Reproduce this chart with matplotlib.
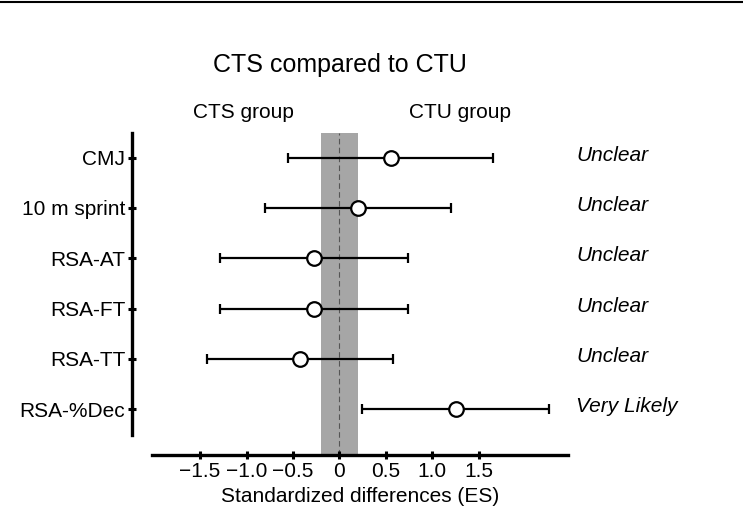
import matplotlib
matplotlib.use("Agg")
import matplotlib.pyplot as plt
from matplotlib.lines import Line2D

plt.rcParams['font.family'] = ['Liberation Sans', 'DejaVu Sans']

measures = ["CMJ", "10 m sprint", "RSA-AT", "RSA-FT", "RSA-TT", "RSA-%Dec"]
es = [0.55, 0.20, -0.27, -0.27, -0.42, 1.25]
ci_low = [-0.55, -0.80, -1.28, -1.28, -1.43, 0.24]
ci_high = [1.65, 1.20, 0.74, 0.74, 0.58, 2.25]
outcomes = ["Unclear", "Unclear", "Unclear", "Unclear", "Unclear", "Very Likely"]
xticks = [-1.5, -1.0, -0.5, 0, 0.5, 1.0, 1.5]
xticklabels = ["\u22121.5", "\u22121.0", "\u22120.5", "0", "0.5", "1.0", "1.5"]
swc = 0.2

fig = plt.figure(figsize=(7.43, 5.23), dpi=100)
ax = fig.add_axes([0.2042, 0.130, 0.5603, 0.6157])

ypos = list(range(len(measures)))
ax.axvspan(-swc, swc, color="#a6a6a6", lw=0, zorder=0)
ax.axvline(0, color="#555555", lw=0.8, ls=(0, (5, 3)), zorder=1)

err_lo = [e - l for e, l in zip(es, ci_low)]
err_hi = [h - e for e, h in zip(es, ci_high)]
ax.errorbar(es, ypos, xerr=[err_lo, err_hi], fmt="o", color="black",
            ecolor="black", elinewidth=1.6, capsize=3.5, capthick=1.6,
            markersize=10.5, markerfacecolor="white", markeredgecolor="black",
            markeredgewidth=1.6, zorder=3)

ax.set_xlim(-2.02, 2.46)
ax.set_ylim(5.91, -0.49)

for sp in ["top", "right"]:
    ax.spines[sp].set_visible(False)
ax.spines["left"].set_position(("outward", 14))
ax.spines["left"].set_bounds(-0.49, 5.51)
ax.spines["left"].set_linewidth(2.4)
ax.spines["bottom"].set_linewidth(2.4)

ax.set_yticks(ypos)
ax.set_yticklabels(measures, fontsize=15)
ax.set_xticks(xticks)
ax.set_xticklabels(xticklabels, fontsize=15)
ax.tick_params(axis="both", direction="inout", length=6, width=2.2, pad=2)
ax.set_xlabel("Standardized differences (ES)", fontsize=15, labelpad=4)

for y, txt in zip(ypos, outcomes):
    ax.text(2.55, y - 0.05, txt, fontsize=15, style="italic", ha="left",
            va="center", clip_on=False)

fig.text(0.4576, 0.876, "CTS compared to CTU", fontsize=18, ha="center", va="center")
fig.text(0.327, 0.784, "CTS group", fontsize=15, ha="center", va="center")
fig.text(0.619, 0.784, "CTU group", fontsize=15, ha="center", va="center")

fig.add_artist(Line2D([0, 1], [0.996, 0.996], transform=fig.transFigure,
                      color="black", lw=1.5))

fig.savefig("out.png", dpi=100)
